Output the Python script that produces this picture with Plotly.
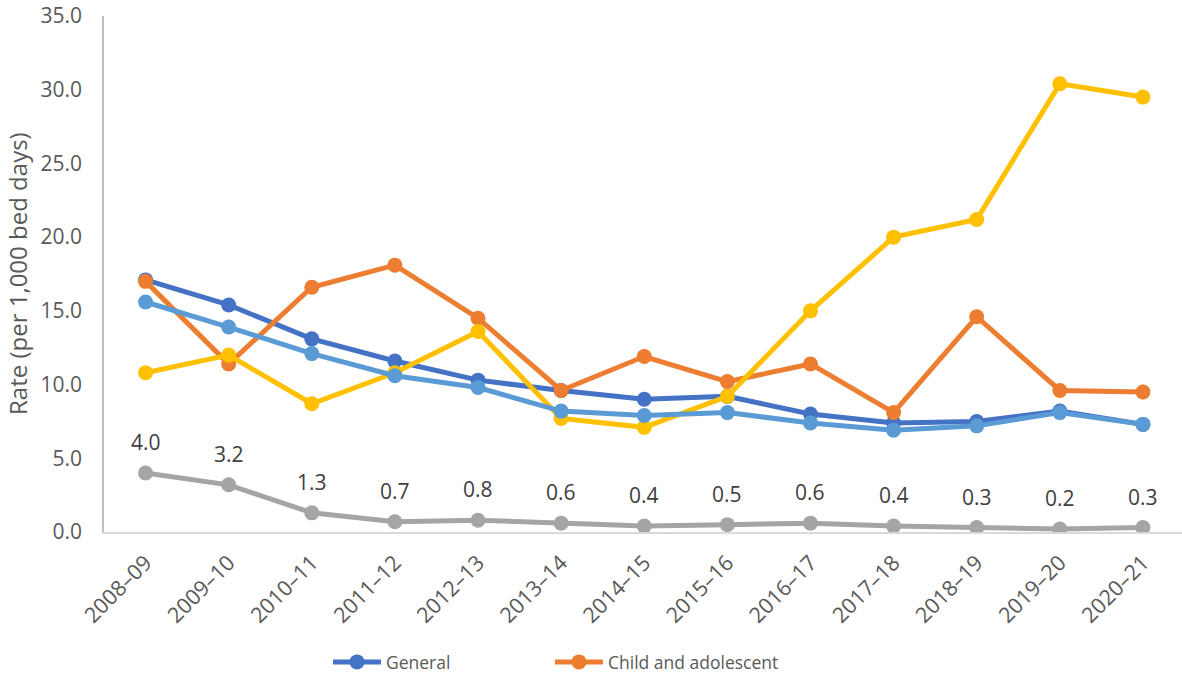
import plotly.graph_objects as go

years = ["2008–09", "2009–10", "2010–11", "2011–12", "2012–13", "2013–14", "2014–15",
         "2015–16", "2016–17", "2017–18", "2018–19", "2019–20", "2020–21"]

general = [17.1, 15.4, 13.1, 11.6, 10.3, 9.6, 9.0, 9.2, 8.0, 7.4, 7.5, 8.2, 7.3]
child_adolescent = [17.0, 11.4, 16.6, 18.1, 14.5, 9.6, 11.9, 10.2, 11.4, 8.1, 14.6, 9.6, 9.5]
older_person = [10.8, 12.0, 8.7, 10.8, 13.6, 7.7, 7.1, 9.2, 15.0, 20.0, 21.2, 30.4, 29.5]
total = [15.6, 13.9, 12.1, 10.6, 9.8, 8.2, 7.9, 8.1, 7.4, 6.9, 7.2, 8.1, 7.3]
forensic = [4.0, 3.2, 1.3, 0.7, 0.8, 0.6, 0.4, 0.5, 0.6, 0.4, 0.3, 0.2, 0.3]

FONT = "Open Sans"
TEXT_GREY = "#595959"

# (name, values, colour, legend id or None)
series = [
    ("General", general, "#4472C4", "legend"),
    ("Child and adolescent", child_adolescent, "#ED7D31", "legend2"),
    ("Older person", older_person, "#FFC000", None),
    ("Total", total, "#5B9BD5", None),
    ("Forensic", forensic, "#A5A5A5", None),
]

fig = go.Figure()
for name, values, colour, leg in series:
    fig.add_trace(go.Scatter(
        x=years, y=values, name=name, mode="lines+markers",
        line=dict(color=colour, width=5),
        marker=dict(color=colour, size=15),
        showlegend=leg is not None,
        legend=leg or "legend",
    ))

# value labels above the forensic series
for yr, v in zip(years, forensic):
    fig.add_annotation(x=yr, y=v, text=f"{v:.1f}", showarrow=False, yshift=31,
                       font=dict(family=FONT, size=21, color="#404040"))

fig.add_annotation(xref="paper", yref="paper", x=0, xshift=-87, xanchor="center",
                   y=0.5, yanchor="middle",
                   text="Rate (per 1,000 bed days)", textangle=-90, showarrow=False,
                   font=dict(family=FONT, size=24, color=TEXT_GREY))

legend_style = dict(orientation="h", xanchor="left", y=-0.252, yanchor="middle",
                    itemwidth=48, bgcolor="rgba(0,0,0,0)",
                    font=dict(family=FONT, size=17.5, color=TEXT_GREY))

fig.update_layout(
    width=1182, height=674,
    margin=dict(l=104, r=0, t=16, b=142, autoexpand=False),
    paper_bgcolor="white", plot_bgcolor="white",
    font=dict(family=FONT, size=20, color=TEXT_GREY),
    legend=dict(x=0.2078, **legend_style),
    legend2=dict(x=0.4137, **legend_style),
)
fig.update_xaxes(
    range=[-0.5, 12.47], tickangle=-45, showgrid=False, automargin=False,
    showline=True, linecolor="#D9D9D9", linewidth=1.5, ticks="",
    ticklabelstandoff=8,
    tickfont=dict(family=FONT, size=21.5, color=TEXT_GREY),
)
fig.update_yaxes(
    range=[0, 35], dtick=5, tickformat=".1f", showgrid=False, automargin=False,
    showline=True, linecolor="#BFBFBF", linewidth=1.5, ticks="",
    zeroline=False, ticklabelstandoff=16,
    tickfont=dict(family=FONT, size=21, color=TEXT_GREY),
)

fig.write_html("out.html")
